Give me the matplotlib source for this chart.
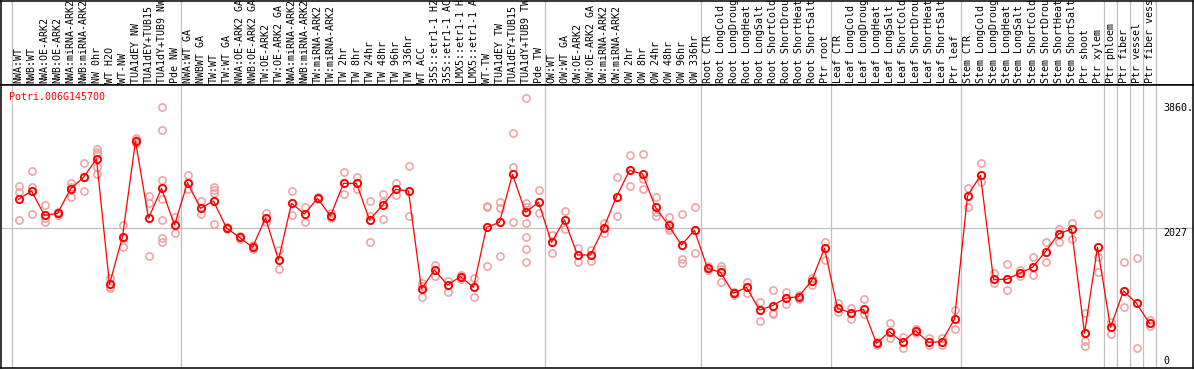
import matplotlib
matplotlib.use("Agg")
import matplotlib.pyplot as plt

# ======================= DATA =======================
GENE_ID = "Potri.006G145700"

SAMPLES = [
    "NWA:WT", "NWB:WT", "NWA:OE-ARK2", "NWB:OE-ARK2", "NWA:miRNA-ARK2", "NWB:miRNA-ARK2",
    "NW 0hr", "WT H2O", "WT-NW", "TUA1dEY NW", "TUA1dEY+TUB15", "TUA1dY+TUB9 NW", "Pde NW",
    "NWA:WT GA", "NWBWT GA", "TW:WT", "TW:WT GA", "NWA:OE-ARK2 GA", "NWB:OE-ARK2 GA",
    "TW:OE-ARK2", "TW:OE-ARK2 GA", "NWA:miRNA-ARK2", "NWB:miRNA-ARK2", "TW:miRNA-ARK2",
    "TW:miRNA-ARK2", "TW 2hr", "TW 8hr", "TW 24hr", "TW 48hr", "TW 96hr", "TW 336hr",
    "WT ACC", "35S::etr1-1 H2", "35S::etr1-1 AC", "LMX5::etr1-1 H", "LMX5::etr1-1 A",
    "WT-TW", "TUA1dEY TW", "TUA1dEY+TUB15", "TUA1dY+TUB9 TW", "Pde TW",
    "OW:WT", "OW:WT GA", "OW:OE-ARK2", "OW:OE-ARK2 GA", "OW:miRNA-ARK2", "OW:miRNA-ARK2",
    "OW 2hr", "OW 8hr", "OW 24hr", "OW 48hr", "OW 96hr", "OW 336hr",
    "Root CTR", "Root LongCold", "Root LongDroug", "Root LongHeat", "Root LongSalt",
    "Root ShortCold", "Root ShortDrou", "Root ShortHeat", "Root ShortSalt", "Ptr root",
    "Leaf CTR", "Leaf LongCold", "Leaf LongDroug", "Leaf LongHeat", "Leaf LongSalt",
    "Leaf ShortCold", "Leaf ShortDrou", "Leaf ShortHeat", "Leaf ShortSalt", "Ptr leaf",
    "Stem CTR", "Stem LongCold", "Stem LongDroug", "Stem LongHeat", "Stem LongSalt",
    "Stem ShortCold", "Stem ShortDrou", "Stem ShortHeat", "Stem ShortSalt", "Ptr shoot",
    "Ptr xylem", "Ptr phloem", "Ptr fiber", "Ptr vessel", "Ptr fiber vess",
]

MEANS = [
    2446, 2568, 2211, 2240, 2597, 2769, 3038, 1199, 1898, 3302, 2167, 2607, 2069,
    2690, 2314, 2421, 2025, 1888, 1741, 2172, 1556, 2387, 2231, 2460, 2201, 2680,
    2680, 2143, 2358, 2592, 2568, 1130, 1409, 1189, 1311, 1154, 2035, 2108, 2813,
    2255, 2402,
    1815, 2143, 1629, 1629, 2020, 2485, 2871, 2817, 2328, 2064, 1776, 1991,
    1433, 1375, 1067, 1154, 822, 886, 993, 1018, 1247, 1727,
    846, 783, 832, 333, 504, 347, 519, 347, 357, 685,
    2495, 2798, 1272, 1272, 1360, 1448, 1678, 1937, 2011, 480, 1741,
    568, 1101, 920, 626,
]

REPLICATES = [
    [2641, 2558, 2143], [2862, 2622, 2226], [2358, 2167, 2118], [2262, 2240, 2218],
    [2680, 2626, 2485], [2974, 2769, 2568], [3179, 3145, 3111, 2915, 2817],
    [1287, 1164, 1140], [2069, 1874, 1751], [3341, 3316, 3267], [2495, 2387, 1614],
    [3796, 3463, 2729, 2446, 2143, 1874, 1825], [2191, 2069, 1957],
    [2803, 2592], [2421, 2226], [2622, 2583, 2534, 2079], [2045, 2025, 2005],
    [1908, 1868], [1775, 1712], [2240, 2118], [1702, 1424], [2568, 2216],
    [2328, 2108], [2485, 2450], [2240, 2167], [2847, 2519], [2778, 2592],
    [2421, 2201, 1815], [2524, 2411, 2152], [2680, 2509], [2930, 2201],
    [1213, 1170, 1008], [1482, 1321], [1252, 1081], [1340, 1282], [1287, 1008],
    [2348, 2338, 1468], [2411, 2314, 1614], [3414, 2915, 2108],
    [3928, 2397, 2328, 2094, 1898, 1712, 1521], [2583, 2240],
    [1922, 1653], [2275, 2006], [1727, 1531], [1702, 1541], [2103, 1947],
    [2769, 2206], [3096, 2646], [3111, 2739, 2592], [2485, 2265, 2201],
    [2191, 2020, 1996], [2226, 1565, 1516], [2328, 1653],
    [1462, 1413], [1472, 1425, 1228], [1091, 1042], [1238, 1076], [944, 661],
    [1110, 783, 763], [1081, 905], [1042, 984], [1296, 1189], [1815, 1556],
    [920, 798], [846, 685], [978, 758], [357, 309], [626, 406], [431, 269],
    [538, 489], [406, 309], [406, 309], [822, 538],
    [2607, 2338], [2974, 2705], [1360, 1213], [1497, 1115], [1409, 1326],
    [1595, 1336], [1815, 1521], [2006, 1825], [2103, 1859], [773, 372, 294],
    [2226, 1604, 1375],
    [651, 465], [1531, 871], [1580, 259], [675, 587],
]

GROUP_EDGES = [-0.5, 12.5, 40.5, 52.5, 62.5, 72.5, 83.5, 84.5, 85.5, 86.5, 87.5]
Y_TICKS = [0, 2027, 3860]
Y_TICK_TEXT = ["0", "2027", "3860."]

# ======================= STYLE =======================
W, H, DPI = 1194, 370, 100
FONT = "DejaVu Sans Mono"
FS = 7.2
RED = "#ff0000"
REP_COLOR = "#eea0a0"
GRID = "#c0c0c0"

# pixel layout (x index -> px = 18.5 + 13*i)
X0_PX, DX_PX = 18.5, 13.0
LEFT_PX, RIGHT_PX = 1, 1193
SPLIT_PX = 85          # bottom of label strip
BOTTOM_PX = 368
ZERO_PX, PX_PER_UNIT = 366, 0.06815

xlim = ((LEFT_PX - X0_PX) / DX_PX, (RIGHT_PX - X0_PX) / DX_PX)
ylim = ((ZERO_PX - BOTTOM_PX) / PX_PER_UNIT, (ZERO_PX - SPLIT_PX) / PX_PER_UNIT)

fig = plt.figure(figsize=(W / DPI, H / DPI), dpi=DPI)
fig.patch.set_facecolor("white")

ax_lab = fig.add_axes([LEFT_PX / W, (H - SPLIT_PX) / H, (RIGHT_PX - LEFT_PX) / W, (SPLIT_PX - 0.5) / H])
ax = fig.add_axes([LEFT_PX / W, (H - BOTTOM_PX) / H, (RIGHT_PX - LEFT_PX) / W, (BOTTOM_PX - SPLIT_PX) / H])

for a in (ax_lab, ax):
    a.set_xlim(*xlim)
    a.set_xticks([])
    a.set_yticks([])
    for sp in a.spines.values():
        sp.set_color("black")
        sp.set_linewidth(1.1)
    for e in GROUP_EDGES:
        a.axvline(e, color=GRID, lw=0.9, zorder=0)

# --- label strip ---
ax_lab.set_ylim(0, 1)
for i, name in enumerate(SAMPLES):
    ax_lab.text(i, 2.0 / SPLIT_PX, name, rotation=90, ha="center", va="bottom",
                family=FONT, fontsize=FS, color="black", clip_on=True)

# --- expression plot ---
ax.set_ylim(*ylim)
ax.axhline(2027, color=GRID, lw=0.9, zorder=0)

rep_x, rep_y = [], []
for i, reps in enumerate(REPLICATES):
    rep_x.extend([i] * len(reps))
    rep_y.extend(reps)
ax.plot(rep_x, rep_y, linestyle="none", marker="o", ms=5.2, mfc="none",
        mec=REP_COLOR, mew=1.1, zorder=2)

xs = list(range(len(MEANS)))
ax.plot(xs, MEANS, color=RED, lw=0.9, zorder=3)
ax.plot(xs, MEANS, linestyle="none", marker="o", ms=5.2, mfc="none",
        mec=RED, mew=1.4, zorder=4)

# right-hand value labels
x_txt = (1163 - X0_PX) / DX_PX
for v, t in zip(Y_TICKS, Y_TICK_TEXT):
    ax.text(x_txt, v, t, ha="left", va="bottom" if v == 0 else "top",
            family=FONT, fontsize=FS, color="black", clip_on=True)

fig.text(9.5 / W, 1 - 91.5 / H, GENE_ID, ha="left", va="top",
         family=FONT, fontsize=FS, color=RED)

fig.savefig("out.png", dpi=DPI)
